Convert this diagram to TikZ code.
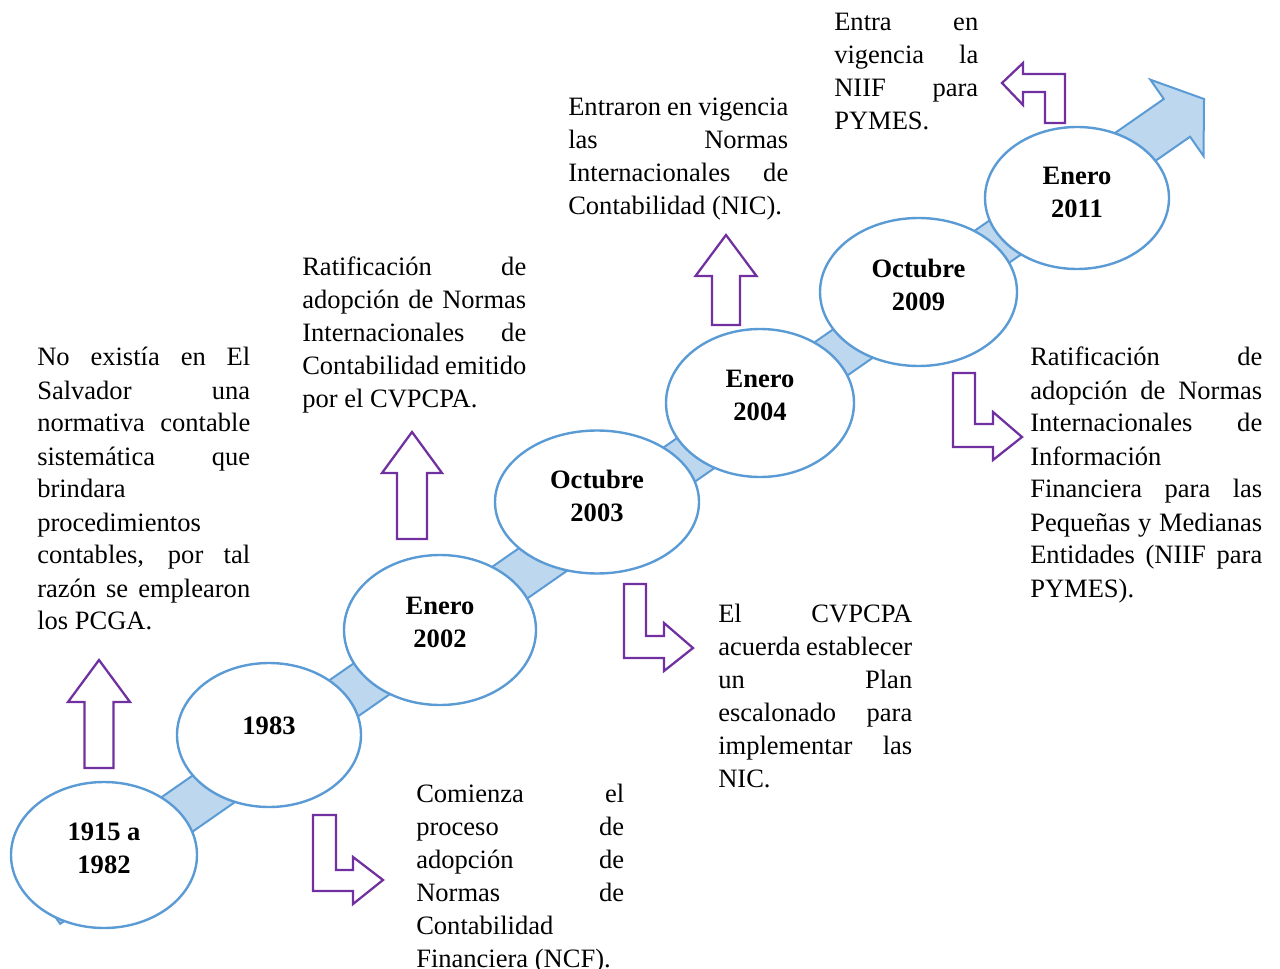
\documentclass[tikz,border=0pt]{standalone}
\usepackage{fontspec}
\setmainfont{Liberation Serif}
\usetikzlibrary{shapes.geometric,calc}

\definecolor{lineblue}{HTML}{5B9BD5}
\definecolor{bandblue}{HTML}{BDD7EE}
\definecolor{arrowpurple}{HTML}{7030A0}

% justified notes with hand-placed line breaks, no hyphenation
\tolerance=10000
\pretolerance=-1
\hyphenpenalty=10000
\exhyphenpenalty=10000

\begin{document}
\begin{tikzpicture}[x=0.75pt,y=-0.75pt,
  stage/.style={ellipse, draw=lineblue, fill=white, line width=1.8pt, inner sep=0pt},
  datetext/.style={font=\fontsize{19.9pt}{24.75pt}\selectfont\bfseries, align=center, anchor=base, inner sep=0pt},
  note/.style={font=\fontsize{19.9pt}{24.75pt}\selectfont, align=justify, anchor=base west,
    inner sep=0pt, text width=#1},
  pointer/.style={draw=arrowpurple, fill=white, line width=1.7pt, line join=miter},
  band/.style={draw=lineblue, fill=bandblue, line width=1.5pt, line join=miter}]

\useasboundingbox (0,0) rectangle (1280,969);

% the rising timeline band with its arrow head
\coordinate (tail) at (47,905);
\coordinate (tip) at (1204,99);
\coordinate (hb) at ($(tip)!24.75pt!(tail)$);
\draw[band] ($(tail)!17.25pt!90:(tip)$) -- ($(hb)!17.25pt!90:(tip)$)
  -- ($(hb)!34.9pt!90:(tip)$) -- (tip) -- ($(hb)!34.9pt!-90:(tip)$)
  -- ($(hb)!17.25pt!-90:(tip)$) -- ($(tail)!17.25pt!-90:(tip)$) -- cycle;

% stages
\node[stage, minimum width=139.5pt, minimum height=109.5pt] (e1) at (104,855) {};
\node[stage, minimum width=138pt, minimum height=108pt] (e2) at (269,735) {};
\node[stage, minimum width=144pt, minimum height=112.5pt] (e3) at (440,630) {};
\node[stage, minimum width=153pt, minimum height=107.25pt] (e4) at (597,502) {};
\node[stage, minimum width=141pt, minimum height=111pt] (e5) at (760,403) {};
\node[stage, minimum width=147.75pt, minimum height=111pt] (e6) at (918.5,292) {};
\node[stage, minimum width=138pt, minimum height=106.5pt] (e7) at (1077,198) {};

% stage labels (anchored on the baseline of their last line)
\node[datetext] (d1) at ($(e1.center)+(0,18)$) {1915 a\\1982};
\node[datetext] (d2) at ($(e2.center)+(0,-1)$) {1983};
\node[datetext] (d3) at ($(e3.center)+(0,17)$) {Enero\\2002};
\node[datetext] (d4) at ($(e4.center)+(0,19)$) {Octubre\\2003};
\node[datetext] (d5) at ($(e5.center)+(0,18)$) {Enero\\2004};
\node[datetext] (d6) at ($(e6.center)+(0,19)$) {Octubre\\2009};
\node[datetext] (d7) at ($(e7.center)+(0,20)$) {Enero\\2011};

% purple pointers
\draw[pointer, shift={(99,660)}] (0,0) -- (31,42) -- (14.5,42) -- (14.5,108)
  -- (-14.5,108) -- (-14.5,42) -- (-31,42) -- cycle;
\draw[pointer, shift={(412,432)}] (0,0) -- (30,41) -- (15,41) -- (15,107)
  -- (-15,107) -- (-15,41) -- (-30,41) -- cycle;
\draw[pointer, shift={(726,235)}] (0,0) -- (30.5,41) -- (14,41) -- (14,90)
  -- (-14,90) -- (-14,41) -- (-30.5,41) -- cycle;
\draw[pointer, shift={(313,815)}] (0,0) -- (23,0) -- (23,55) -- (40,55) -- (40,42)
  -- (70,65) -- (40,89) -- (40,76) -- (0,76) -- cycle;
\draw[pointer, shift={(624,584)}] (0,0) -- (22,0) -- (22,52) -- (40,52) -- (40,39)
  -- (69,64) -- (40,87) -- (40,74) -- (0,74) -- cycle;
\draw[pointer, shift={(953,373)}] (0,0) -- (22,0) -- (22,51) -- (40,51) -- (40,39)
  -- (69,64) -- (40,87) -- (40,74) -- (0,74) -- cycle;
\draw[pointer] (1002,83) -- (1023,63) -- (1023,74) -- (1065,74) -- (1065,123)
  -- (1045,123) -- (1045,92) -- (1023,92) -- (1023,105) -- cycle;

% notes
\node[note=159.75pt] (nA) at (37,366) {No existía en El\linebreak
Salvador una\linebreak
normativa contable\linebreak
sistemática que\linebreak
brindara\newline
procedimientos\newline
contables, por tal\linebreak
razón se emplearon\linebreak
los PCGA.};

\node[note=168pt] (nB) at (302,276) {Ratificación de\linebreak
adopción de Normas\linebreak
Internacionales de\linebreak
Contabilidad emitido\linebreak
por el CVPCPA.};

\node[note=165pt] (nC) at (568,116) {Entraron en vigencia\linebreak
las Normas\linebreak
Internacionales de\linebreak
Contabilidad (NIC).};

\node[note=108pt] (nD) at (834,31) {Entra en\linebreak
vigencia la\linebreak
NIIF para\linebreak
PYMES.};

\node[note=174pt] (nE) at (1030,366) {Ratificación de\linebreak
adopción de Normas\linebreak
Internacionales de\linebreak
Información\newline
Financiera para las\linebreak
Pequeñas y Medianas\linebreak
Entidades (NIIF para\linebreak
PYMES).};

\node[note=145.5pt] (nF) at (718,622) {El CVPCPA\linebreak
acuerda establecer\linebreak
un Plan\linebreak
escalonado para\linebreak
implementar las\linebreak
NIC.};

\node[note=156pt] (nG) at (416,802) {Comienza el\linebreak
proceso de\linebreak
adopción de\linebreak
Normas de\linebreak
Contabilidad\newline
Financiera (NCF).};

\end{tikzpicture}
\end{document}
